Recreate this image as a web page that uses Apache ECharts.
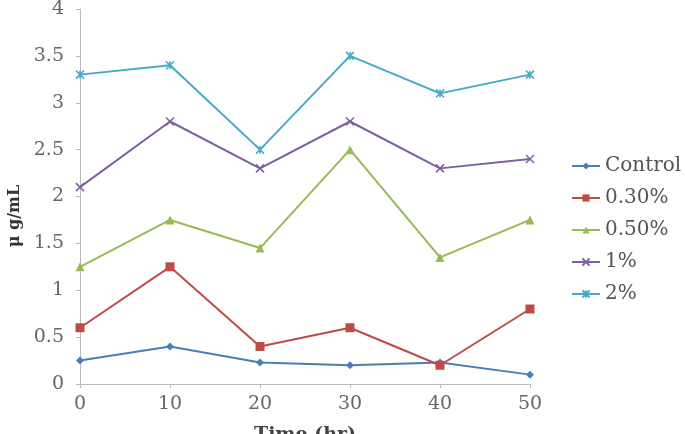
<!DOCTYPE html>
<html>
<head>
<meta charset="utf-8">
<script src="https://cdn.jsdelivr.net/npm/echarts@6/dist/echarts.min.js"></script>
<style>
  html, body { margin: 0; padding: 0; background: #fff; }
  #chart { width: 685px; height: 434px; }
</style>
</head>
<body>
<div id="chart"></div>
<script>
const hours = [0, 10, 20, 30, 40, 50]
const seriesNames = ['Control', '0.30%', '0.50%', '1%', '2%']
const control = [0.25, 0.4, 0.23, 0.2, 0.23, 0.1]
const pct030 = [0.6, 1.25, 0.4, 0.6, 0.2, 0.8]
const pct050 = [1.25, 1.75, 1.45, 2.5, 1.35, 1.75]
const pct1 = [2.1, 2.8, 2.3, 2.8, 2.3, 2.4]
const pct2 = [3.3, 3.4, 2.5, 3.5, 3.1, 3.3]

const colors = ['#4a7ebb', '#be4b48', '#98b954', '#7d60a0', '#46aac5']
const crossPath = 'path://M0,0L10,10M10,0L0,10'
const starPath = 'path://M0,0L10,10M10,0L0,10M5,0L5,10'
const symbols = ['diamond', 'rect', 'triangle', crossPath, starPath]
const sizes = [8, 9, 9, 8, 8]
const allValues = [control, pct030, pct050, pct1, pct2]

const font = 'DejaVu Serif'

const option = {
  animation: false,
  grid: {
    left: 80,
    right: 155,
    top: 9,
    bottom: 50,
    outerBoundsMode: 'none',
    containLabel: false,
  },
  legend: {
    orient: 'vertical',
    left: 566,
    top: 151,
    itemWidth: 28,
    itemHeight: 9,
    itemGap: 12,
    textStyle: { fontFamily: font, fontSize: 20, color: '#555' },
    data: seriesNames,
  },
  graphic: [{
    type: 'text',
    x: 15,
    y: 216,
    rotation: Math.PI / 2,
    style: {
      text: 'μ g/mL',
      font: 'bold 16px "DejaVu Serif"',
      fill: '#333',
      align: 'center',
      verticalAlign: 'middle',
    },
  }],
  xAxis: {
    type: 'value',
    min: 0,
    max: 50,
    interval: 10,
    name: 'Time (hr)',
    nameLocation: 'middle',
    nameGap: 42,
    nameTextStyle: { fontFamily: font, fontSize: 19, color: '#444', fontWeight: 'bold', verticalAlign: 'top' },
    splitLine: { show: false },
    axisLine: { lineStyle: { color: '#bbb' } },
    axisTick: { show: true, length: 4, lineStyle: { color: '#bbb' } },
    axisLabel: { fontFamily: font, fontSize: 19, color: '#666', margin: 11 },
  },
  yAxis: {
    type: 'value',
    min: 0,
    max: 4,
    interval: 0.5,
    splitLine: { show: false },
    axisLine: { show: true, lineStyle: { color: '#bbb' } },
    axisTick: { show: true, length: 4, lineStyle: { color: '#bbb' } },
    axisLabel: { fontFamily: font, fontSize: 19, color: '#666', margin: 16 },
  },
  series: seriesNames.map((name, i) => ({
    name: name,
    type: 'line',
    data: hours.map((h, j) => [h, allValues[i][j]]),
    symbol: symbols[i],
    symbolSize: sizes[i],
    showAllSymbol: true,
    lineStyle: { width: 2, color: colors[i] },
    itemStyle: { color: colors[i], borderColor: colors[i], borderWidth: i >= 3 ? 1.5 : 0 },
  })),
}

const chart = echarts.init(document.getElementById('chart'))
chart.setOption(option)
</script>
</body>
</html>
